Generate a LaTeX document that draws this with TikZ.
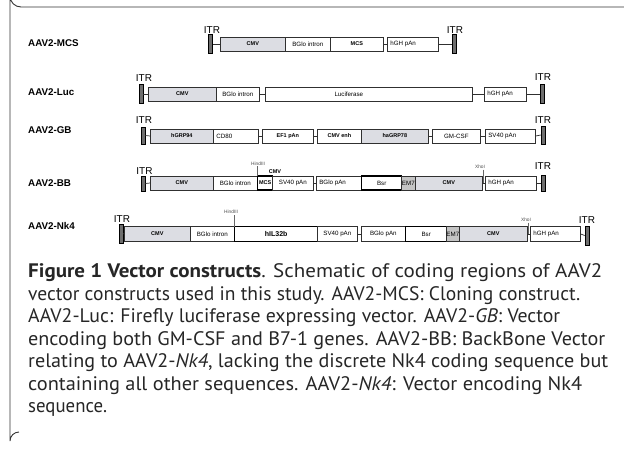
\documentclass[tikz,border=0pt]{standalone}
\usepackage{fontspec}
\usepackage{graphicx}
\setmainfont{Liberation Sans}
\newfontfamily\capfont{PT Sans}
\newlength\capw
\AtBeginDocument{%
  \settowidth\capw{\capfont\fontsize{10pt}{12pt}\selectfont vector constructs used in this study. AAV2-MCS: Cloning construct.}%
  \pgfmathsetmacro\capsz{5520/\capw}%
  \xdef\capsz{\capsz}}
\definecolor{boxgray}{HTML}{DCDDE3}
\definecolor{emgray}{HTML}{C4C4C4}
\definecolor{itrgray}{HTML}{6E6E6E}
\definecolor{edge}{HTML}{303030}
\definecolor{captext}{HTML}{262626}
\newcommand\bx[7]{%
  \node[box,#5,anchor=west,minimum width={#3pt-#2pt}] (#1) at (#2,#4)
    {\makebox[\dimexpr#3pt-#2pt\relax][#6]{\hspace{3pt}#7\hspace{3pt}}};}
\newcommand\itrbar[4]{%
  \node[itr,minimum height=#4pt] (#1) at (#2,#3) {};}
\newcommand\capline[4]{% name, baseline y, width, text
  \node[captxt] (#1) at (28,#2) {\resizebox{#3pt}{\height}{#4}};}
\tikzset{
  box/.style={draw=edge,line width=0.7pt,inner sep=0pt,minimum height=14pt,
    font=\fontsize{6.2}{7}\selectfont,fill=white},
  gr/.style={fill=boxgray},
  emfill/.style={fill=emgray},
  thick box/.style={draw=black,line width=1.4pt},
  bt/.style={font=\bfseries\fontsize{5.5}{6}\selectfont},
  itr/.style={draw=black,fill=itrgray,line width=0.6pt,minimum width=4pt,inner sep=0pt},
  itrlbl/.style={font=\fontsize{10}{11}\selectfont,inner sep=0pt},
  rowlbl/.style={font=\bfseries\fontsize{9.8}{11}\selectfont,anchor=west,inner sep=0pt},
  site/.style={font=\fontsize{4.8}{5}\selectfont,text=black!70,inner sep=0.5pt},
  link/.style={draw=edge,line width=0.7pt},
  sitel/.style={draw=black!60,line width=0.5pt},
  frameline/.style={draw=black!80,line width=0.9pt},
  captxt/.style={anchor=base west,inner sep=0pt,text=captext,
    font=\capfont\fontsize{\capsz pt}{\capsz pt}\selectfont},
}
\begin{document}
\begin{tikzpicture}[x=1pt,y=-1pt]
\useasboundingbox (0,0) rectangle (624,450);
% frame
\draw[frameline] (624,7) -- (21,7) arc[start angle=90,end angle=180,radius=11] -- (10,441) arc[start angle=180,end angle=270,radius=9];
% ---------- AAV2-MCS
\node[rowlbl] (l1) at (28,43) {AAV2-MCS};
\itrbar{i1a}{210.5}{44}{19}
\itrbar{i1b}{454}{44}{19}
\node[itrlbl] (t1a) at (212,30) {ITR};
\node[itrlbl] (t1b) at (455,30) {ITR};
\bx{a1}{220}{285}{44}{gr,bt}{c}{CMV}
\bx{a2}{285}{330}{44}{}{c}{BGlo intron}
\bx{a3}{330}{383}{44}{bt}{c}{MCS}
\bx{a4}{387}{438}{44}{}{l}{hGH pAn}
\draw[link] (i1a.east) -- (a1.west);
\draw[link] (a3.east) -- (a4.west);
\draw[link] (a4.east) -- (i1b.west);
% ---------- AAV2-Luc
\node[rowlbl] (l2) at (28,92) {AAV2-Luc};
\itrbar{i2a}{141}{94}{19}
\itrbar{i2b}{542}{94}{19}
\node[itrlbl] (t2a) at (144,78) {ITR};
\node[itrlbl] (t2b) at (543,77) {ITR};
\bx{b1}{148}{216}{94}{gr,bt}{c}{CMV}
\bx{b2}{216}{259}{94}{}{c}{BGlo intron}
\bx{b3}{265}{472}{94}{}{c}{\hspace*{-40pt}Luciferase}
\bx{b4}{484}{526}{94}{}{l}{hGH pAn}
\draw[link] (i2a.east) -- (b1.west);
\draw[link] (b2.east) -- (b3.west);
\draw[link] (b3.east) -- (b4.west);
\draw[link] (b4.east) -- (i2b.west);
% ---------- AAV2-GB
\node[rowlbl] (l3) at (28,130) {AAV2-GB};
\itrbar{i3a}{143}{135.5}{17}
\itrbar{i3b}{543}{135}{18}
\node[itrlbl] (t3a) at (144,120) {ITR};
\node[itrlbl] (t3b) at (543,120) {ITR};
\bx{c1}{150}{213}{136}{gr,bt}{c}{hGRP94}
\bx{c2}{213}{258}{136}{}{l}{CD80}
\bx{c3}{262}{313}{136}{bt}{c}{EF1 pAn}
\bx{c4}{317}{361}{136}{bt}{c}{CMV enh}
\bx{c5}{361}{428}{136}{gr,bt}{c}{haGRP78}
\bx{c6}{432}{480}{136}{}{c}{GM-CSF}
\bx{c7}{485}{535}{136}{}{l}{SV40 pAn}
\draw[link] (i3a.east) -- (c1.west);
\draw[link] (c2.east) -- (c3.west);
\draw[link] (c3.east) -- (c4.west);
\draw[link] (c5.east) -- (c6.west);
\draw[link] (c6.east) -- (c7.west);
\draw[link] (c7.east) -- (i3b.west);
% ---------- AAV2-BB
\node[rowlbl] (l4) at (28,183) {AAV2-BB};
\itrbar{i4a}{143}{183.5}{15}
\itrbar{i4b}{543}{183}{16}
\node[itrlbl] (t4a) at (144.5,171) {ITR};
\node[itrlbl] (t4b) at (543,166) {ITR};
\bx{d1}{150}{213}{183}{gr,bt}{c}{CMV}
\bx{d2}{213}{257}{183}{}{c}{BGlo intron}
\bx{d3}{257}{272}{183}{thick box,bt}{c}{\hspace*{-6pt}MCS\hspace*{-6pt}}
\bx{d4}{272}{313}{183}{}{c}{SV40 pAn}
\bx{d5}{316}{361}{183}{}{l}{BGlo pAn}
\bx{d6}{361}{401}{183}{thick box}{c}{Bsr}
\bx{d7}{401}{415}{183}{emfill}{c}{\hspace*{-6pt}EM7\hspace*{-6pt}}
\bx{d8}{415}{482}{183}{gr,bt}{c}{CMV}
\bx{d9}{485}{536}{183}{}{l}{hGH pAn}
\draw[link] (i4a.east) -- (d1.west);
\draw[link] (d4.east) -- (d5.west);
\draw[link] (d8.east) -- (d9.west);
\draw[link] (d9.east) -- (i4b.west);
\node[bt,inner sep=0pt] (cmvs) at (275,172) {CMV};
\node[site] (h4) at (258,163.5) {HindIII};
\coordinate (h4e) at (257.5,176);
\draw[sitel] (257.5,166) -- (h4e);
\node[site] (x4) at (480,167) {XhoI};
\coordinate (x4e) at (483.5,183);
\draw[sitel] (483.5,169.5) -- (x4e);
% ---------- AAV2-Nk4
\node[rowlbl] (l5) at (28,226) {AAV2-Nk4};
\itrbar{i5a}{121}{233.5}{19}
\itrbar{i5b}{587}{235.5}{19}
\node[itrlbl] (t5a) at (122,219) {ITR};
\node[itrlbl] (t5b) at (587,220) {ITR};
\bx{e1}{124}{190}{234}{gr,bt,minimum height=15pt}{c}{CMV}
\bx{e2}{190}{234}{234}{minimum height=15pt}{c}{BGlo intron}
\bx{e3}{234}{317}{234}{thick box,minimum height=15pt,font=\bfseries\fontsize{7}{8}\selectfont}{c}{hIL32b}
\bx{e4}{317}{357}{234}{minimum height=15pt}{c}{SV40 pAn}
\bx{e5}{361}{405}{234}{minimum height=15pt}{c}{BGlo pAn}
\bx{e6}{405}{446}{234}{thick box,minimum height=15pt}{c}{Bsr}
\bx{e7}{446}{459}{234}{emfill,minimum height=15pt}{c}{\hspace*{-6pt}EM7\hspace*{-6pt}}
\bx{e8}{459}{527}{234}{gr,bt,minimum height=15pt}{c}{CMV}
\bx{e9}{530}{580}{234}{minimum height=15pt}{l}{hGH pAn}
\draw[link] (i5a.east) -- (e1.west);
\draw[link] (e4.east) -- (e5.west);
\draw[link] (e8.east) -- (e9.west);
\draw[link] (e9.east) -- (i5b.west);
\node[site] (h5) at (231,212) {HindIII};
\coordinate (h5e) at (234,226.5);
\draw[sitel] (234,215) -- (h5e);
\node[site] (x5) at (526,220) {XhoI};
\coordinate (x5e) at (528.5,234);
\draw[sitel] (528.5,222.5) -- (x5e);
% ---------- caption
\capline{c1l}{277}{574}{\textbf{Figure 1 Vector constructs}. Schematic of coding regions of AAV2}
\capline{c2l}{300}{552}{vector constructs used in this study. AAV2-MCS: Cloning construct.}
\capline{c3l}{322.5}{532}{AAV2-Luc: Firefly luciferase expressing vector. AAV2-\textit{GB}: Vector}
\capline{c4l}{345}{577}{encoding both GM-CSF and B7-1 genes. AAV2-BB: BackBone Vector}
\capline{c5l}{367.5}{580}{relating to AAV2-\textit{Nk4}, lacking the discrete Nk4 coding sequence but}
\capline{c6l}{390}{554}{containing all other sequences. AAV2-\textit{Nk4}: Vector encoding Nk4}
\capline{c7l}{412.5}{79}{sequence.}
\end{tikzpicture}
\end{document}
